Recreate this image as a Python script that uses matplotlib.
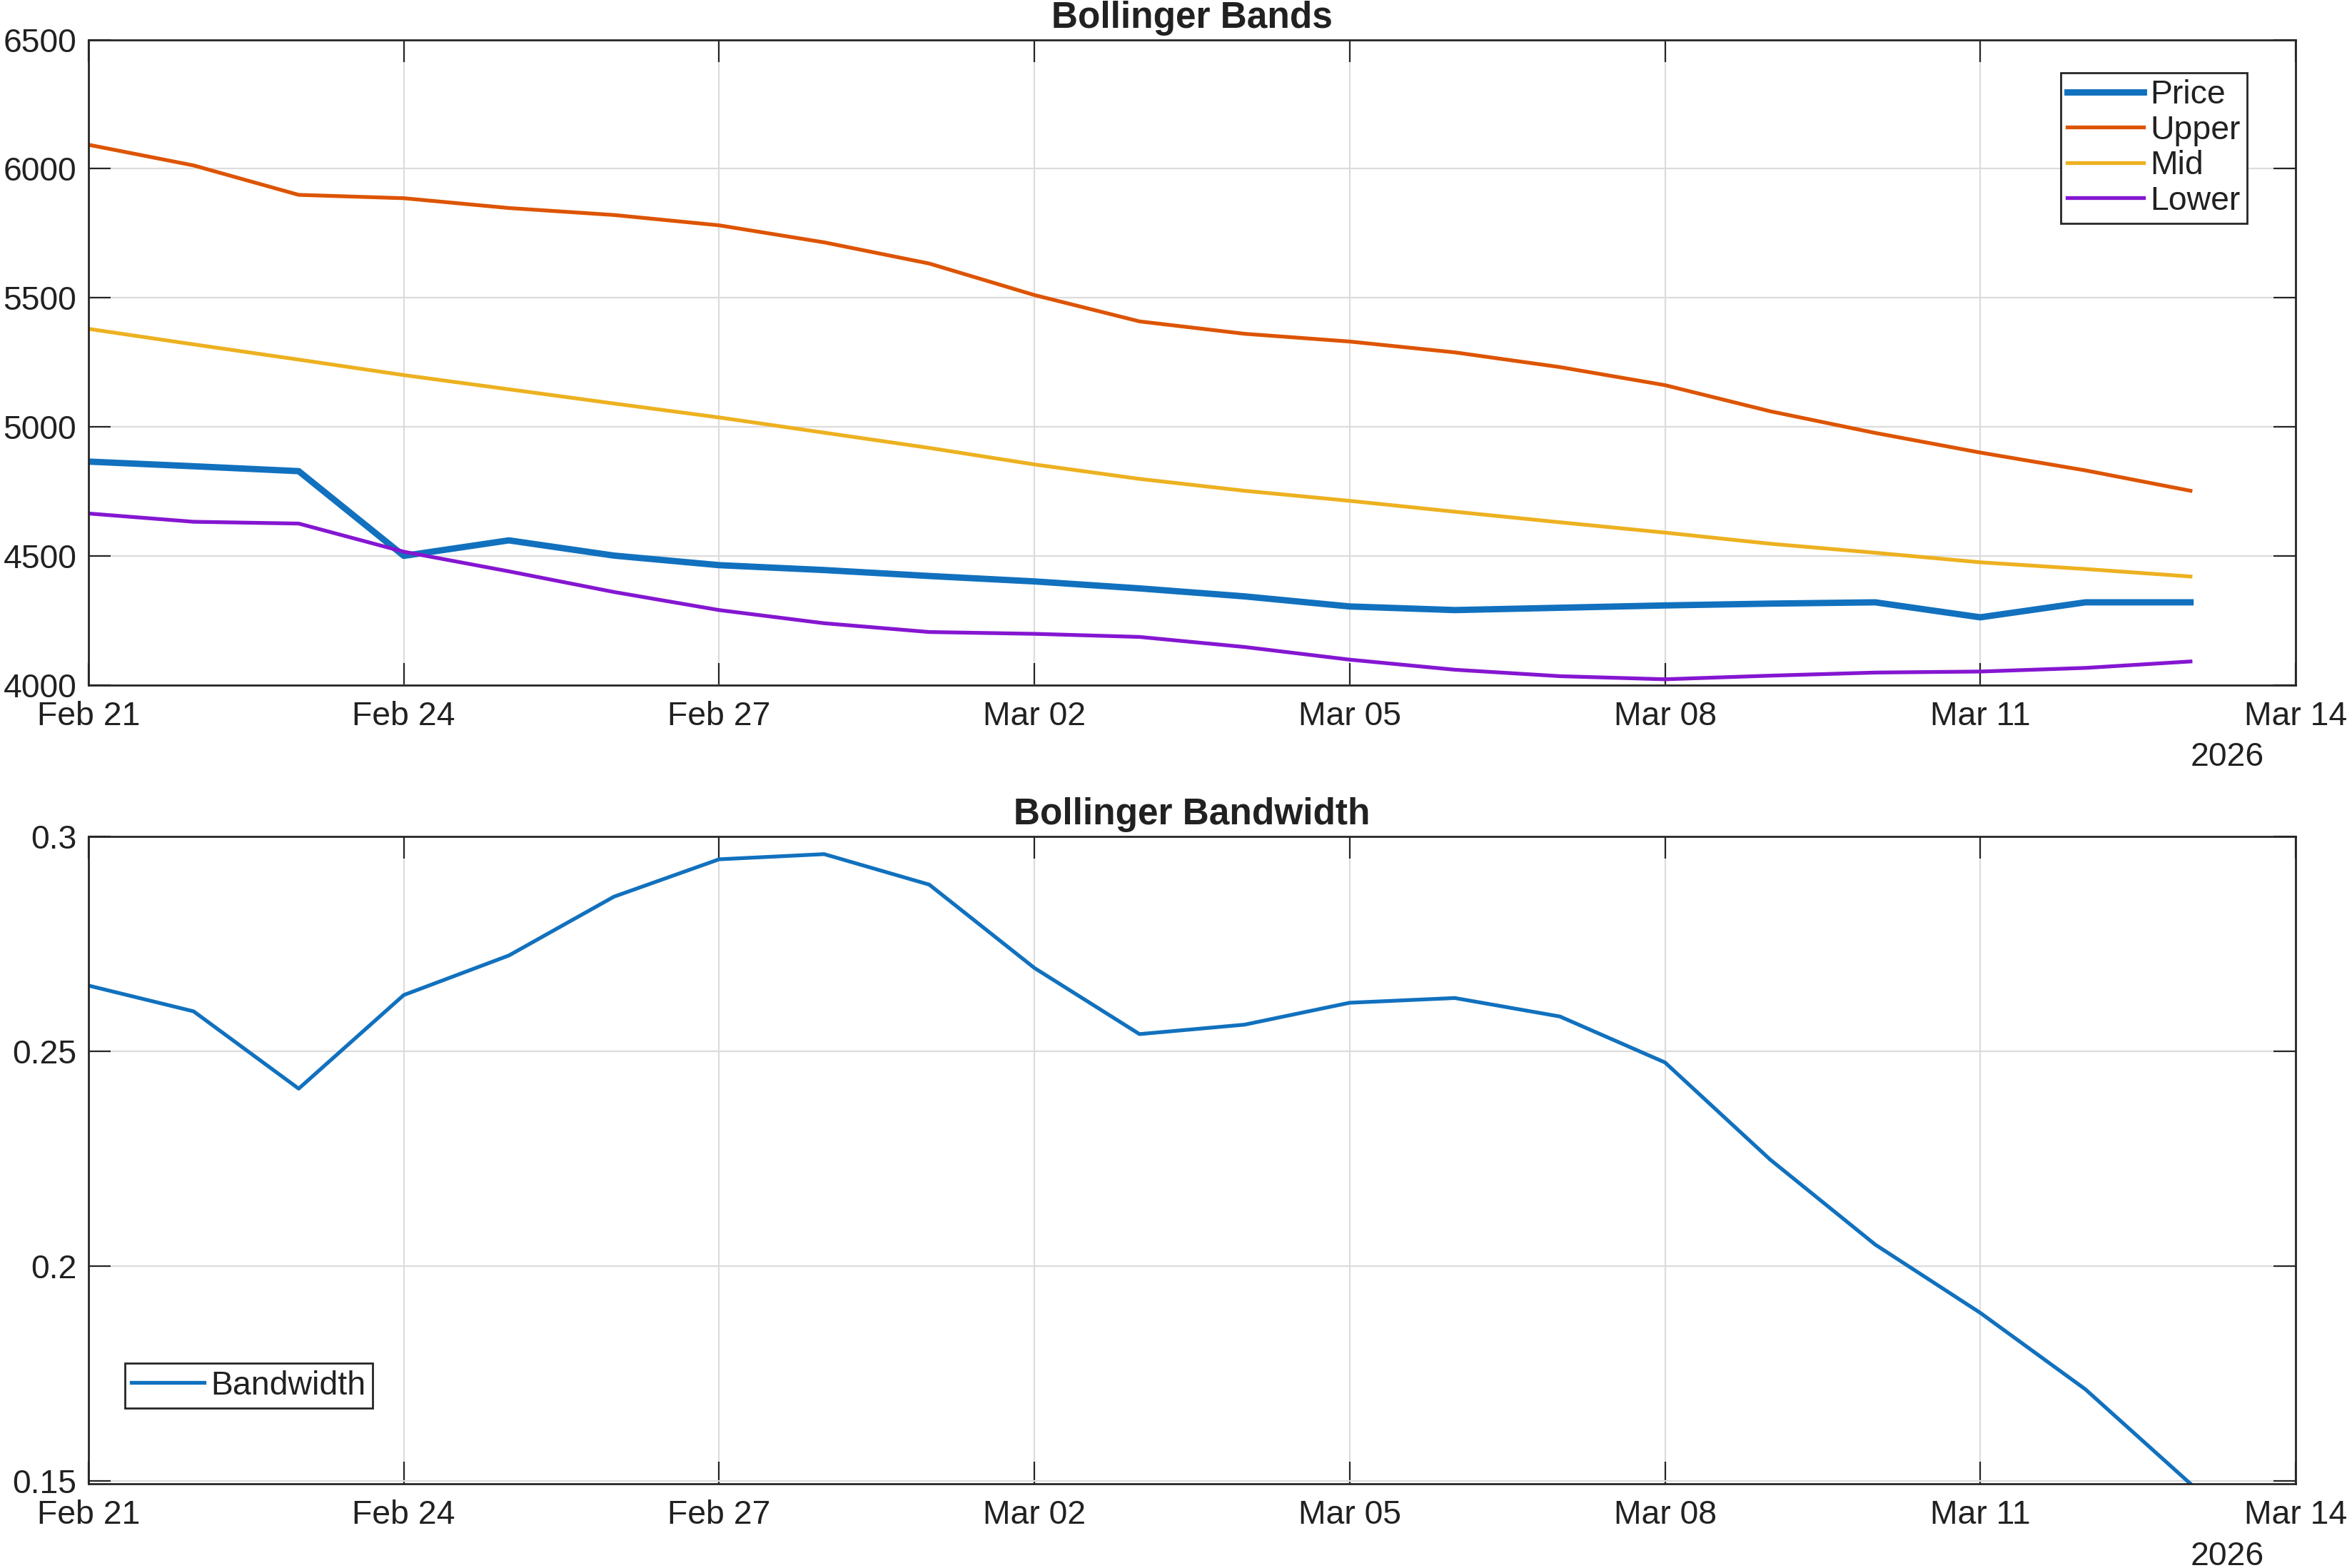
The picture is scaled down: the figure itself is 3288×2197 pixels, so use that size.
import numpy as np
import matplotlib
matplotlib.use('Agg')
import matplotlib.pyplot as plt
import matplotlib.dates as mdates
from matplotlib.ticker import FuncFormatter

plt.rcParams['font.family'] = ['Liberation Sans', 'DejaVu Sans']

# dates (daily)
dates = np.array(['2026-02-21', '2026-02-22', '2026-02-23', '2026-02-24', '2026-02-25',
                  '2026-02-26', '2026-02-27', '2026-02-28', '2026-03-01', '2026-03-02',
                  '2026-03-03', '2026-03-04', '2026-03-05', '2026-03-06', '2026-03-07',
                  '2026-03-08', '2026-03-09', '2026-03-10', '2026-03-11', '2026-03-12',
                  '2026-03-13'], dtype='datetime64[D]')

price = [4866, 4848, 4829, 4501, 4561, 4502, 4465, 4446, 4423, 4402,
         4375, 4344, 4305, 4291, 4300, 4309, 4316, 4321, 4263, 4321, 4321]
upper = [6093, 6013, 5899, 5886, 5848, 5821, 5781, 5715, 5633, 5511,
         5409, 5361, 5331, 5289, 5232, 5162, 5061, 4977, 4901, 4832, 4753]
mid = [5380, 5320, 5261, 5201, 5146, 5091, 5037, 4978, 4919, 4855,
       4799, 4753, 4714, 4672, 4631, 4591, 4548, 4513, 4476, 4450, 4421]
lower = [4665, 4633, 4626, 4517, 4441, 4361, 4291, 4240, 4206, 4199,
         4187, 4148, 4099, 4060, 4035, 4023, 4037, 4049, 4053, 4067, 4092]
bandwidth = [0.2653, 0.2593, 0.2413, 0.2631, 0.2723, 0.2860, 0.2947, 0.2959, 0.2888, 0.2694,
             0.2540, 0.2562, 0.2613, 0.2624, 0.2581, 0.2474, 0.2248, 0.2050, 0.1891, 0.1713, 0.1493]

tick_dates = np.array(['2026-02-21', '2026-02-24', '2026-02-27', '2026-03-02',
                       '2026-03-05', '2026-03-08', '2026-03-11', '2026-03-14'], dtype='datetime64[D]')

c_blue = (0.066, 0.443, 0.745)
c_orange = (0.866, 0.329, 0.0)
c_yellow = (0.929, 0.694, 0.125)
c_purple = (0.521, 0.086, 0.819)
txt = '#212121'
ax_col = '#262626'
fs = 16.7

fig = plt.figure(figsize=(16.44, 10.985), dpi=200)
ax1 = fig.add_axes([0.0377, 0.563, 0.9404, 0.4117])
ax2 = fig.add_axes([0.0377, 0.0537, 0.9404, 0.4128])


def style(ax):
    ax.set_xlim(tick_dates[0], tick_dates[-1])
    ax.set_xticks(tick_dates)
    ax.xaxis.set_major_formatter(mdates.DateFormatter('%b %d'))
    ax.grid(True, color='#dcdcdc', linewidth=0.8)
    ax.set_axisbelow(True)
    ax.tick_params(direction='in', length=11, width=0.8, color=ax_col,
                   top=True, right=True, labelsize=fs, labelcolor=txt)
    ax.tick_params(axis='x', pad=8)
    ax.tick_params(axis='y', pad=6)
    for s in ax.spines.values():
        s.set_color(ax_col)
        s.set_linewidth(1.0)
    ax.text(0.969, -0.112, '2026', transform=ax.transAxes, ha='center', va='center',
            fontsize=fs, color=txt)


def legend_style(leg):
    leg.get_frame().set_linewidth(1.0)
    for t in leg.get_texts():
        t.set_color(txt)


ax1.plot(dates, price, color=c_blue, lw=3.2, label='Price')
ax1.plot(dates, upper, color=c_orange, lw=1.9, label='Upper')
ax1.plot(dates, mid, color=c_yellow, lw=1.9, label='Mid')
ax1.plot(dates, lower, color=c_purple, lw=1.9, label='Lower')
ax1.set_ylim(4000, 6500)
ax1.set_yticks([4000, 4500, 5000, 5500, 6000, 6500])
style(ax1)
ax1.set_title('Bollinger Bands', fontsize=18.5, fontweight='bold', color=txt, pad=6)
leg = ax1.legend(loc='upper right', bbox_to_anchor=(0.978, 0.949), borderaxespad=0,
                 fontsize=fs, fancybox=False, framealpha=1, edgecolor=ax_col,
                 handlelength=2.3, handletextpad=0.2, labelspacing=0.12, borderpad=0.2)
legend_style(leg)

ax2.plot(dates, bandwidth, color=c_blue, lw=1.9, label='Bandwidth')
ax2.set_ylim(min(bandwidth), 0.3)
ax2.set_yticks([0.15, 0.2, 0.25, 0.3])
ax2.yaxis.set_major_formatter(FuncFormatter(lambda v, p: '%g' % v))
style(ax2)
ax2.set_title('Bollinger Bandwidth', fontsize=18.5, fontweight='bold', color=txt, pad=6)
leg2 = ax2.legend(loc='lower left', bbox_to_anchor=(0.0165, 0.117), borderaxespad=0,
                  fontsize=fs, fancybox=False, framealpha=1, edgecolor=ax_col,
                  handlelength=2.2, handletextpad=0.2, borderpad=0.2)
legend_style(leg2)

fig.savefig('out.png', dpi=200, facecolor='white')
